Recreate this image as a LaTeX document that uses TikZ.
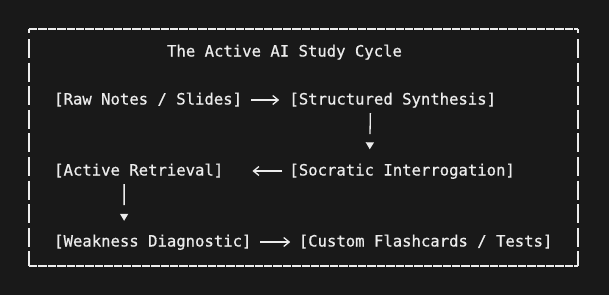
\documentclass[tikz,border=0pt]{standalone}
\usepackage{fontspec}
\newfontfamily\termfont[FakeBold=0.6]{DejaVu Sans Mono}
\usetikzlibrary{arrows.meta, positioning}
\definecolor{termbg}{RGB}{25,25,25}
\definecolor{termfg}{RGB}{236,236,236}
\tikzstyle{stage} = [inner sep=0pt, text height=12pt, text depth=3pt, text=termfg, font=\termfont\fontsize{15.6}{18}\selectfont]
\tikzstyle{flow} = [draw=termfg, line width=1.3pt, -{Straight Barb[length=5.5pt,width=9pt]}]
\tikzstyle{drop} = [draw=termfg, line width=1.3pt, dash pattern=on 21pt off 30pt, -{Triangle[length=7pt,width=8pt]}]
\tikzstyle{frameh} = [draw=termfg, line width=1.2pt, dash pattern=on 8.4pt off 1pt]
\tikzstyle{framev} = [draw=termfg, line width=1.2pt, dash pattern=on 4pt off 6pt on 19pt off 4.6pt on 19pt off 4.6pt on 19pt off 4.6pt on 19pt off 4.6pt on 19pt off 4.6pt on 19pt off 4.6pt on 19pt off 4.6pt on 19pt off 4.6pt on 19pt off 4.6pt on 30pt off 0pt]

\begin{document}
\begin{tikzpicture}[x=1pt, y=-1pt]
        \fill [termbg] (0,0) rectangle (609,295);
        \useasboundingbox (0,0) rectangle (609,295);

        % Frame
        \draw [frameh] (29,29) -- (578,29);
        \draw [frameh] (29,266) -- (578,266);
        \draw [framev] (29,29) -- (29,266);
        \draw [framev] (578,29) -- (578,266);

        % Title
        \node (title) [stage] at (284.5,52) {The Active AI Study Cycle};

        % Row 1
        \node (raw) [stage, anchor=west] at (54,100) {[Raw Notes / Slides]};
        \node (synth) [stage, right=47pt of raw] {[Structured Synthesis]};

        % Row 2
        \node (active) [stage, anchor=west] at (54,171) {[Active Retrieval]};
        \node (socratic) [stage, right=65.8pt of active] {[Socratic Interrogation]};

        % Row 3
        \node (weak) [stage, anchor=west] at (54,242) {[Weakness Diagnostic]};
        \node (custom) [stage, right=47pt of weak] {[Custom Flashcards / Tests]};

        % Arrows
        \draw [flow, shorten <=9pt, shorten >=10pt] (raw) -- (synth);
        \draw [drop] ([xshift=-22.4pt, yshift=-5.5pt]synth.south) -- ([xshift=-32.4pt, yshift=14pt]socratic.north);
        \draw [flow, shorten <=7pt, shorten >=29pt] (socratic) -- (active);
        \draw [drop] ([xshift=-14.6pt, yshift=-5.5pt]active.south) -- ([xshift=-28.7pt, yshift=13.5pt]weak.north);
        \draw [flow, shorten <=8.6pt, shorten >=8.4pt] (weak) -- (custom);
    \end{tikzpicture}
\end{document}
